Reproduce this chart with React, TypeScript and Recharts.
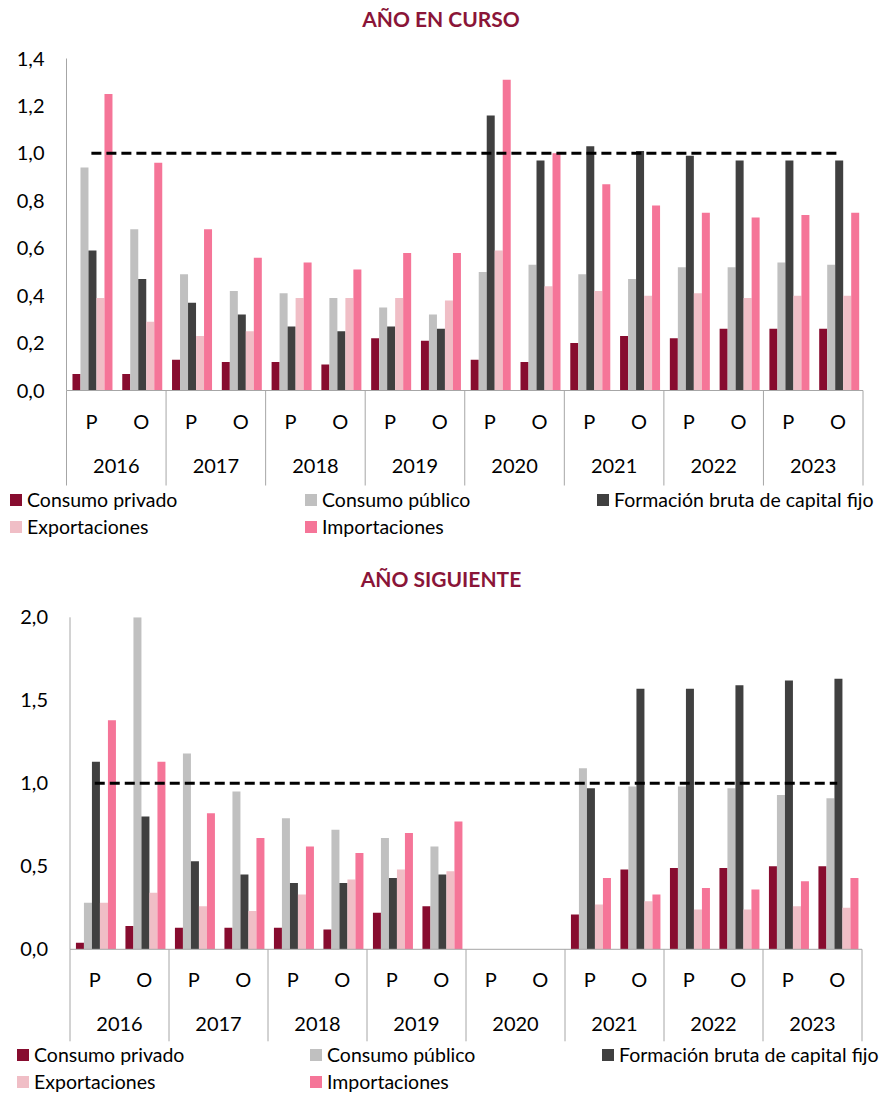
import React from 'react';
import { ComposedChart, Bar, Line, XAxis, YAxis } from 'recharts';

const years = ['2016', '2017', '2018', '2019', '2020', '2021', '2022', '2023'];
const phases = ['P', 'O'];

// Año en curso
const cursoPrivado = [0.07, 0.07, 0.13, 0.12, 0.12, 0.11, 0.22, 0.21, 0.13, 0.12, 0.2, 0.23, 0.22, 0.26, 0.26, 0.26];
const cursoPublico = [0.94, 0.68, 0.49, 0.42, 0.41, 0.39, 0.35, 0.32, 0.5, 0.53, 0.49, 0.47, 0.52, 0.52, 0.54, 0.53];
const cursoFormacion = [0.59, 0.47, 0.37, 0.32, 0.27, 0.25, 0.27, 0.26, 1.16, 0.97, 1.03, 1.01, 0.99, 0.97, 0.97, 0.97];
const cursoExport = [0.39, 0.29, 0.23, 0.25, 0.39, 0.39, 0.39, 0.38, 0.59, 0.44, 0.42, 0.4, 0.41, 0.39, 0.4, 0.4];
const cursoImport = [1.25, 0.96, 0.68, 0.56, 0.54, 0.51, 0.58, 0.58, 1.31, 1.0, 0.87, 0.78, 0.75, 0.73, 0.74, 0.75];

// Año siguiente
const sigPrivado = [0.04, 0.14, 0.13, 0.13, 0.13, 0.12, 0.22, 0.26, null, null, 0.21, 0.48, 0.49, 0.49, 0.5, 0.5];
const sigPublico = [0.28, 2.0, 1.18, 0.95, 0.79, 0.72, 0.67, 0.62, null, null, 1.09, 0.98, 0.98, 0.97, 0.93, 0.91];
const sigFormacion = [1.13, 0.8, 0.53, 0.45, 0.4, 0.4, 0.43, 0.45, null, null, 0.97, 1.57, 1.57, 1.59, 1.62, 1.63];
const sigExport = [0.28, 0.34, 0.26, 0.23, 0.33, 0.42, 0.48, 0.47, null, null, 0.27, 0.29, 0.24, 0.24, 0.26, 0.25];
const sigImport = [1.38, 1.13, 0.82, 0.67, 0.62, 0.58, 0.7, 0.77, null, null, 0.43, 0.33, 0.37, 0.36, 0.41, 0.43];

const umbral = [1, 1, 1, 1, 1, 1, 1, 1, 1, 1, 1, 1, 1, 1, 1, 1];

const cursoTicks = [0, 0.2, 0.4, 0.6, 0.8, 1.0, 1.2, 1.4];
const sigTicks = [0, 0.5, 1.0, 1.5, 2.0];

const series = [
  { key: 'privado', name: 'Consumo privado', color: '#870C2F' },
  { key: 'publico', name: 'Consumo público', color: '#C0C0C0' },
  { key: 'formacion', name: 'Formación bruta de capital fijo', color: '#404040' },
  { key: 'export', name: 'Exportaciones', color: '#F0BEC6' },
  { key: 'import', name: 'Importaciones', color: '#F57598' },
];

const FONT = 'Lato, "Open Sans", sans-serif';
const GRID = '#A6A6A6';

function buildRows(vals: (number | null)[][]) {
  const rows: any[] = [];
  years.forEach((y, yi) => {
    phases.forEach((p, pi) => {
      const i = yi * 2 + pi;
      rows.push({
        key: `${y}-${p}`,
        privado: vals[0][i],
        publico: vals[1][i],
        formacion: vals[2][i],
        export: vals[3][i],
        import: vals[4][i],
        umbral: umbral[i],
      });
    });
  });
  return rows;
}

const cursoRows = buildRows([cursoPrivado, cursoPublico, cursoFormacion, cursoExport, cursoImport]);
const sigRows = buildRows([sigPrivado, sigPublico, sigFormacion, sigExport, sigImport]);

const CategoryTick = (props: any) => {
  const { x, y, payload, index, catW, drop, count } = props;
  const [year, phase] = String(payload.value).split('-');
  const half = catW / 2;
  return (
    <g>
      <text x={x} y={y + 30} textAnchor="middle" dominantBaseline="central" fontSize={20} fontFamily={FONT} fill="#000">
        {phase}
      </text>
      {index % 2 === 0 && (
        <>
          <text x={x + half} y={y + 74} textAnchor="middle" dominantBaseline="central" fontSize={20} fontFamily={FONT} fill="#000">
            {year}
          </text>
          <line x1={x - half} x2={x - half} y1={y} y2={y + drop} stroke={GRID} strokeWidth={1} />
        </>
      )}
      {index === count - 1 && <line x1={x + half} x2={x + half} y1={y} y2={y + drop} stroke={GRID} strokeWidth={1} />}
    </g>
  );
};

type PanelProps = {
  top: number;
  title: string;
  rows: any[];
  ticks: number[];
  max: number;
  plotLeft: number;
  plotRight: number;
  plotTop: number;
  drop: number;
  legendLeft: number[];
  legendTop: number;
};

const Panel = ({ top, title, rows, ticks, max, plotLeft, plotRight, plotTop, drop, legendLeft, legendTop }: PanelProps) => {
  const width = 882;
  const height = 490;
  const plotH = 332;
  const catW = (plotRight - plotLeft) / rows.length;
  return (
    <div style={{ position: 'absolute', top, left: 0, width, height: 540 }}>
      <div
        style={{
          position: 'absolute',
          top: 7,
          left: 0,
          width,
          textAlign: 'center',
          fontFamily: FONT,
          fontWeight: 700,
          fontSize: 21,
          lineHeight: '24px',
          color: '#8A1538',
        }}
      >
        {title}
      </div>
      <ComposedChart
        width={width}
        height={height}
        data={rows}
        margin={{ top: plotTop, right: width - plotRight, left: 0, bottom: 0 }}
        barCategoryGap="12%"
        barGap={0}
      >
        <XAxis
          dataKey="key"
          interval={0}
          tickLine={false}
          tickSize={0}
          tickMargin={0}
          height={height - plotTop - plotH}
          axisLine={{ stroke: GRID }}
          tick={(p: any) => <CategoryTick {...p} catW={catW} drop={drop} count={rows.length} />}
        />
        <YAxis
          width={plotLeft}
          domain={[0, max]}
          ticks={ticks}
          allowDataOverflow
          tickLine={false}
          tickSize={6}
          tickMargin={16}
          axisLine={{ stroke: GRID }}
          tick={{ fill: '#000', fontSize: 20, fontFamily: FONT }}
          tickFormatter={(v: number) => v.toFixed(1).replace('.', ',')}
        />
        {series.map((s) => (
          <Bar key={s.key} dataKey={s.key} name={s.name} fill={s.color} isAnimationActive={false} />
        ))}
        <Line
          dataKey="umbral"
          stroke="#000"
          strokeWidth={3}
          strokeDasharray="10 5"
          dot={false}
          activeDot={false}
          legendType="none"
          isAnimationActive={false}
        />
      </ComposedChart>
      {series.map((s, i) => (
        <div
          key={s.key}
          style={{
            position: 'absolute',
            left: legendLeft[i % 3],
            top: legendTop + Math.floor(i / 3) * 27,
            display: 'flex',
            alignItems: 'center',
            fontFamily: FONT,
            fontSize: 19.5,
            lineHeight: '22px',
            color: '#000',
            whiteSpace: 'nowrap',
          }}
        >
          <span style={{ display: 'inline-block', width: 12, height: 12, background: s.color, marginRight: 5 }} />
          {s.name}
        </div>
      ))}
    </div>
  );
};

export default function App() {
  return (
    <div style={{ position: 'absolute', top: 0, left: 0, width: 882, height: 1094, background: '#fff' }}>
      <Panel
        top={0}
        title="AÑO EN CURSO"
        rows={cursoRows}
        ticks={cursoTicks}
        max={1.4}
        plotLeft={66.5}
        plotRight={863}
        plotTop={58.5}
        drop={95}
        legendLeft={[10, 305, 597]}
        legendTop={489}
      />
      <Panel
        top={560}
        title="AÑO SIGUIENTE"
        rows={sigRows}
        ticks={sigTicks}
        max={2}
        plotLeft={70}
        plotRight={862}
        plotTop={57.3}
        drop={92}
        legendLeft={[17, 310, 602]}
        legendTop={484}
      />
    </div>
  );
}
